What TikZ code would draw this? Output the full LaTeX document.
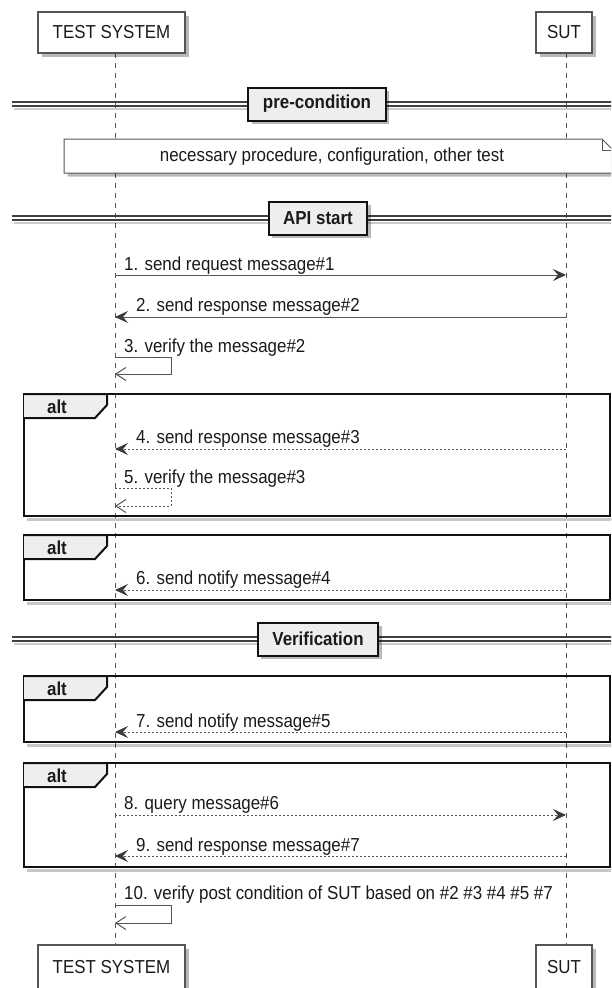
\documentclass[tikz,border=0pt]{standalone}
\usepackage{fontspec}
\setmainfont{Liberation Sans}[FakeStretch=0.9]
\usetikzlibrary{arrows.meta,shadows}
\definecolor{ln}{HTML}{555555}
\definecolor{tx}{HTML}{1A1A1A}
\definecolor{boxfill}{HTML}{EEEEEE}
\definecolor{headfill}{HTML}{3A3A3A}
\definecolor{frame}{HTML}{111111}
\begin{document}
\begin{tikzpicture}[x=1pt,y=-1pt,
  font=\fontsize{18.8}{22}\selectfont,
  shadowed/.style={drop shadow={shadow xshift=3.5pt,shadow yshift=-3.5pt,fill=black,opacity=0.28}},
  participant/.style={draw=ln, line width=1.3pt, fill=white, minimum height=41pt, inner sep=0pt, text=tx, shadowed},
  divlabel/.style={draw=frame, line width=2pt, fill=boxfill, minimum height=33pt, inner xsep=14.5pt, inner ysep=0pt, font=\fontsize{18.8}{22}\selectfont\bfseries, text=tx, shadowed},
  lifeline/.style={ln, line width=1pt, dash pattern=on 5pt off 5pt},
  msg/.style={ln, line width=1pt, -{Stealth[length=13pt,width=12pt,inset=5pt,color=headfill]}},
  dotmsg/.style={msg, dash pattern=on 2pt off 2pt},
  selfmsg/.style={ln, line width=1pt, -{Straight Barb[length=10pt,width=13pt]}},
  dotself/.style={selfmsg, dash pattern=on 2pt off 2pt},
  mlabel/.style={anchor=base west, inner sep=0pt, text=tx},
  altframe/.style={draw=frame, line width=2.5pt},
  altshadow/.style={draw=black, opacity=0.22, line width=3pt},
  alttab/.style={draw=frame, line width=2pt, fill=boxfill},
  altlabel/.style={inner sep=0pt, font=\fontsize{18.8}{22}\selectfont\bfseries, text=tx},
  divline/.style={draw=black!75, line width=1.1pt},
  divshadow/.style={draw=black, opacity=0.2, line width=2.5pt}
]
\useasboundingbox (0,0) rectangle (611,988);
\clip (0,0) rectangle (611,988);

% lifeline coordinates
\coordinate (tsA) at (115,53);
\coordinate (tsB) at (115,945);
\coordinate (sutA) at (566,53);
\coordinate (sutB) at (566,945);
\draw[lifeline] (tsA) -- (tsB);
\draw[lifeline] (sutA) -- (sutB);

% participants
\node[participant, minimum width=147pt] (tsTop) at (111.5,32.5) {\raisebox{-2pt}{TEST SYSTEM}};
\node[participant, minimum width=56pt] (sutTop) at (564,32.5) {\raisebox{-2pt}{SUT}};
\node[participant, minimum width=147pt, minimum height=45pt] (tsBot) at (111.5,967.5) {TEST SYSTEM};
\node[participant, minimum width=56pt, minimum height=45pt] (sutBot) at (564,967.5) {SUT};

% dividers
\foreach \yy in {104,218,639} {
  \draw[divshadow] (14,{\yy+5}) -- (613,{\yy+5});
  \draw[divline] (12,{\yy-2}) -- (613,{\yy-2});
  \draw[divline] (12,{\yy+2}) -- (613,{\yy+2});
}
\node[divlabel] (dPre) at (317,104) {pre-condition};
\node[divlabel] (dApi) at (318,218) {API start};
\node[divlabel] (dVer) at (318,639) {Verification};

% note
\path[draw=ln, line width=1pt, fill=white, shadowed] (64,139) -- (602,139) -- (613,150) -- (613,173) -- (64,173) -- cycle;
\draw[ln, line width=1pt] (602,139) -- (602,150) -- (613,150);
\node[text=tx, inner sep=0pt] (note) at (332,157) {necessary procedure, configuration, other test};

% alt frames
\foreach \t/\b/\n in {394/516/1, 535/600/2, 676/742/3, 763/867/4} {
  \draw[altshadow] (27,{\b+3.5}) -- (614,{\b+3.5});
  \draw[altframe] (24,\t) rectangle (610,\b);
  \draw[alttab] (24,\t) -- (107,\t) -- (107,{\t+11}) -- (95,{\t+24}) -- (24,{\t+24});
  \node[altlabel] (alt\n) at (57,{\t+13}) {alt};
}

% message end points
\coordinate (m1a) at (115,275); \coordinate (m1b) at (566,275);
\coordinate (m2a) at (566,317); \coordinate (m2b) at (115,317);
\coordinate (m3a) at (115,357); \coordinate (m3r1) at (171,357); \coordinate (m3r2) at (171,374); \coordinate (m3b) at (115,374);
\coordinate (m4a) at (566,449); \coordinate (m4b) at (115,449);
\coordinate (m5a) at (115,488); \coordinate (m5r1) at (171,488); \coordinate (m5r2) at (171,506); \coordinate (m5b) at (115,506);
\coordinate (m6a) at (566,590); \coordinate (m6b) at (115,590);
\coordinate (m7a) at (566,732); \coordinate (m7b) at (115,732);
\coordinate (m8a) at (115,815); \coordinate (m8b) at (566,815);
\coordinate (m9a) at (566,856); \coordinate (m9b) at (115,856);
\coordinate (m10a) at (115,905); \coordinate (m10r1) at (171,905); \coordinate (m10r2) at (171,923); \coordinate (m10b) at (115,923);

\draw[msg] (m1a) -- (m1b);
\draw[msg] (m2a) -- (m2b);
\draw[selfmsg] (m3a) -- (m3r1) -- (m3r2) -- (m3b);
\draw[dotmsg] (m4a) -- (m4b);
\draw[dotself] (m5a) -- (m5r1) -- (m5r2) -- (m5b);
\draw[dotmsg] (m6a) -- (m6b);
\draw[dotmsg] (m7a) -- (m7b);
\draw[dotmsg] (m8a) -- (m8b);
\draw[dotmsg] (m9a) -- (m9b);
\draw[selfmsg] (m10a) -- (m10r1) -- (m10r2) -- (m10b);

% message labels
\node[mlabel] (l1) at (124,270) {1. send request message\#1};
\node[mlabel] (l2) at (136,311) {2. send response message\#2};
\node[mlabel] (l3) at (124,352) {3. verify the message\#2};
\node[mlabel] (l4) at (136,443) {4. send response message\#3};
\node[mlabel] (l5) at (124,483) {5. verify the message\#3};
\node[mlabel] (l6) at (136,584) {6. send notify message\#4};
\node[mlabel] (l7) at (136,727) {7. send notify message\#5};
\node[mlabel] (l8) at (124,809) {8. query message\#6};
\node[mlabel] (l9) at (136,851) {9. send response message\#7};
\node[mlabel] (l10) at (124,899) {10. verify post condition of SUT based on \#2 \#3 \#4 \#5 \#7};
\end{tikzpicture}
\end{document}
